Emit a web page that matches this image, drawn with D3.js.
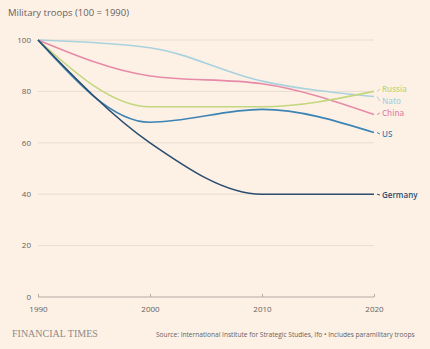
<!DOCTYPE html>
<html>
<head>
<meta charset="utf-8">
<script src="https://cdn.jsdelivr.net/npm/d3@7"></script>
<style>
  body { margin: 0; background: #fdf1e6; }
  svg { display: block; font-family: "Open Sans", sans-serif; }
</style>
</head>
<body>
<div id="chart"></div>
<script>
var years = [1990, 2000, 2010, 2020];
var russia = [100, 74, 74, 80];
var nato = [100, 97, 84, 78];
var china = [100, 86, 83, 71];
var us = [100, 68, 73, 64];
var germany = [100, 60, 40, 40];
var yTicks = [0, 20, 40, 60, 80, 100];

var series = [
    {name: "Nato", values: nato, color: "#a9d2de", labelY: 101},
    {name: "China", values: china, color: "#e68aa8", labelY: 113},
    {name: "Russia", values: russia, color: "#c4d67e", labelY: 89},
    {name: "US", values: us, color: "#3c84b4", labelY: 134},
    {name: "Germany", values: germany, color: "#2b4d70", labelY: 195}
];

var W = 430, H = 349;
var margin = {top: 40, right: 56, bottom: 52, left: 38};
var width = W - margin.left - margin.right, height = H - margin.top - margin.bottom;

var svg = d3.select("#chart").append("svg")
    .attr("width", W)
    .attr("height", H);

svg.append("rect").attr("width", W).attr("height", H).attr("fill", "#fdf1e6");

svg.append("text")
    .attr("x", 8).attr("y", 16)
    .attr("font-size", 9.5)
    .attr("fill", "#66605c")
    .text("Military troops (100 = 1990)");

var g = svg.append("g")
    .attr("transform", "translate(" + margin.left + ", " + margin.top + ")");

var x = d3.scaleLinear().domain([1990, 2020]).range([0, width]);
var y = d3.scaleLinear().domain([0, 100]).range([height, 0]);

// gridlines
g.selectAll(".grid")
    .data(yTicks.filter(function(d){ return d > 0; }))
    .enter().append("line")
    .attr("x1", 0).attr("x2", width)
    .attr("y1", function(d){ return y(d); })
    .attr("y2", function(d){ return y(d); })
    .attr("stroke", "#e9dccf")
    .attr("stroke-width", 1);

g.selectAll(".ylab")
    .data(yTicks)
    .enter().append("text")
    .attr("x", -7)
    .attr("y", function(d){ return y(d); })
    .attr("dy", "0.35em")
    .attr("text-anchor", "end")
    .attr("font-size", 8)
    .attr("fill", "#66605c")
    .text(function(d){ return d; });

var xAxis = d3.axisBottom(x).tickValues(years).tickFormat(d3.format("d")).tickSize(4).tickPadding(4);
var xg = g.append("g")
    .attr("transform", "translate(0, " + height + ")")
    .call(xAxis);
xg.select(".domain").attr("stroke", "#b3aaa2").attr("d", "M0,0H" + width);
xg.selectAll(".tick line").attr("stroke", "#b3aaa2").attr("y1", -3).attr("y2", 0);
xg.selectAll(".tick text").attr("font-size", 8).attr("fill", "#66605c")
    .attr("font-family", "Open Sans, sans-serif").attr("dy", "0.9em");

var line = d3.line()
    .x(function(d, i){ return x(years[i]); })
    .y(function(d){ return y(d); })
    .curve(d3.curveMonotoneX);

g.selectAll(".series")
    .data(series)
    .enter().append("path")
    .attr("d", function(d){ return line(d.values); })
    .attr("fill", "none")
    .attr("stroke", function(d){ return d.color; })
    .attr("stroke-width", 1.6);

// end labels with little connectors
series.forEach(function(s) {
    var endY = margin.top + y(s.values[s.values.length - 1]);
    svg.append("line")
        .attr("x1", margin.left + width + 3).attr("x2", margin.left + width + 6)
        .attr("y1", endY).attr("y2", s.labelY)
        .attr("stroke", s.color).attr("stroke-width", 1);
    svg.append("text")
        .attr("x", margin.left + width + 8)
        .attr("y", s.labelY)
        .attr("dy", "0.35em")
        .attr("font-size", 8)
        .attr("font-weight", 600)
        .attr("fill", s.color)
        .text(s.name);
});

svg.append("text")
    .attr("x", 12).attr("y", 337)
    .attr("font-family", "Liberation Serif, serif")
    .attr("font-size", 10)
    .attr("fill", "#8f8983")
    .text("FINANCIAL TIMES");

svg.append("text")
    .attr("x", 156).attr("y", 337)
    .attr("font-size", 6.6)
    .attr("fill", "#66605c")
    .text("Source: International Institute for Strategic Studies, Ifo \u2022 Includes paramilitary troops");
</script>
</body>
</html>
